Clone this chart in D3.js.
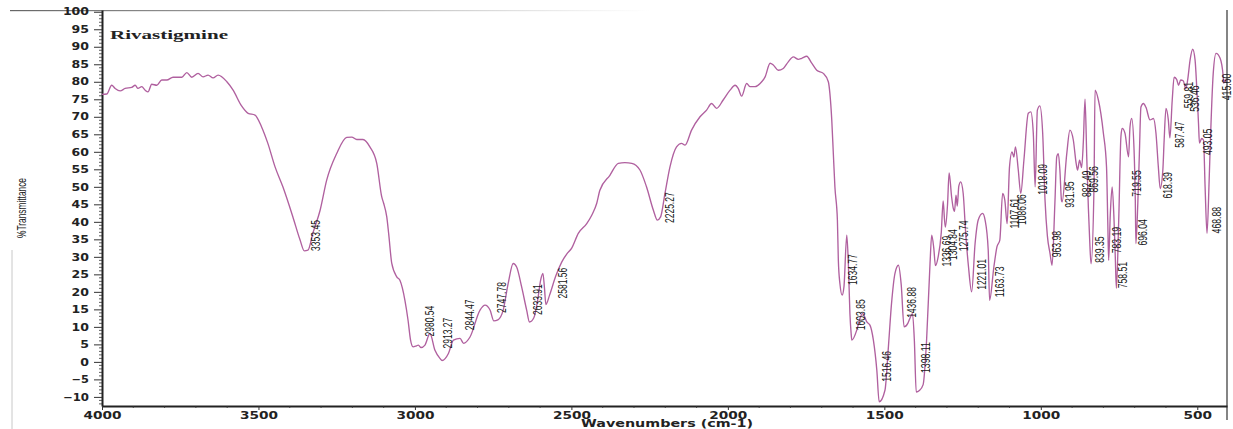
<!DOCTYPE html>
<html>
<head>
<meta charset="utf-8">
<script src="https://cdn.jsdelivr.net/npm/d3@7"></script>
<style>
  html, body { margin: 0; padding: 0; background: #fff; }
  svg { display: block; }
</style>
</head>
<body>
<svg id="chart" width="1233" height="429"></svg>
<script>
// FTIR spectrum of rivastigmine: wavenumber (cm-1) and %T
const wavenumber = [
  4000, 3985, 3969, 3958, 3942, 3926, 3905, 3894, 3885, 3873, 3862, 3853, 3841, 3825, 3809, 3793,
  3773, 3745, 3729, 3713, 3693, 3677, 3661, 3645, 3629, 3601, 3581, 3554, 3533, 3511, 3490, 3470,
  3447, 3422, 3390, 3367, 3353.45, 3342, 3326, 3303, 3282, 3250, 3218, 3202, 3186, 3166, 3144, 3122,
  3106, 3100, 3090, 3084, 3074, 3058, 3048, 3032, 3022, 3014, 3006, 2995, 2989, 2980.54, 2968, 2952,
  2936, 2920, 2913.27, 2893, 2877, 2856, 2844.47, 2824, 2792, 2776, 2760, 2747.78, 2735, 2718, 2702, 2686,
  2675, 2659, 2643, 2633.91, 2620, 2608, 2598, 2591, 2586, 2581.56, 2570, 2550, 2531, 2515, 2499, 2478,
  2451, 2435, 2419, 2409, 2377, 2350, 2329, 2307, 2281, 2260, 2238, 2225.27, 2215, 2201, 2185, 2164,
  2148, 2137, 2116, 2089, 2068, 2052, 2036, 2015, 1993, 1977, 1967, 1956, 1940, 1929, 1913, 1897,
  1881, 1865, 1855, 1839, 1823, 1807, 1791, 1775, 1764, 1748, 1732, 1716, 1695, 1679, 1674, 1668,
  1663, 1658, 1650, 1647, 1642, 1634.77, 1629, 1620, 1615, 1610, 1606, 1603.85, 1588, 1578, 1569, 1556,
  1546, 1535, 1524, 1516.46, 1498, 1487, 1477, 1466, 1455, 1446, 1436.88, 1425, 1418, 1410, 1404, 1398.11,
  1388, 1376, 1365, 1354, 1348.6, 1342, 1336.69, 1328, 1318, 1312, 1308, 1304.84, 1298, 1293, 1285, 1280,
  1275.74, 1271, 1267, 1262, 1256, 1248, 1240, 1231, 1221.01, 1210, 1200, 1186, 1178, 1168, 1163.73, 1150,
  1140, 1131, 1122, 1115, 1107.61, 1100, 1092, 1086.06, 1081, 1072, 1064, 1054, 1040, 1032, 1024, 1018.09,
  1011, 1003, 994, 986.5, 979, 970.6, 963.98, 955, 949, 944, 939, 934, 931.95, 917, 907, 896,
  887, 882.49, 876, 869.56, 864, 858.7, 853, 848, 843, 839.35, 830, 826.7, 816, 800, 790, 786,
  783.19, 778, 772, 766, 762, 758.51, 751, 744, 740, 731, 719.55, 715, 709.5, 702, 698, 696.04,
  690, 685, 680, 672, 664, 651, 640, 632, 624.4, 618.39, 610, 606, 600, 592.5, 587.47, 580,
  574, 566, 559.81, 553, 545, 536.46, 530, 523, 514.6, 507, 501.8, 496, 493.05, 486, 480, 475,
  468.88, 462, 459, 449, 440, 427, 417, 415.6, 411, 405
];
const transmittance = [
  76.4, 76.5, 79.0, 78.1, 77.4, 78.1, 78.4, 79.0, 78.1, 78.6, 77.6, 77.1, 79.3, 79.0, 80.5, 80.5,
  81.3, 81.3, 82.6, 81.3, 82.4, 81.4, 81.9, 81.1, 81.9, 80.0, 77.6, 73.1, 71.0, 70.5, 67.1, 62.4,
  55.7, 50.0, 41.4, 34.8, 31.7, 31.9, 36.8, 43.3, 51.9, 59.5, 64.1, 64.2, 63.5, 63.5, 61.4, 56.7,
  47.1, 45.3, 41.4, 36.7, 28.1, 24.3, 23.3, 17.6, 11.9, 6.2, 4.3, 4.6, 4.8, 4.1, 4.8, 8.1,
  3.3, 1.0, 0.4, 2.4, 6.2, 6.7, 5.3, 7.1, 14.8, 16.2, 14.8, 11.7, 12.0, 14.8, 22.4, 28.1,
  27.1, 21.4, 14.8, 11.4, 12.6, 17.5, 23.5, 25.3, 21.0, 16.4, 19.0, 24.5, 28.5, 30.8, 32.5, 36.7,
  39.5, 41.9, 45.3, 49.0, 53.3, 56.7, 56.9, 56.7, 54.8, 50.0, 43.3, 40.5, 41.4, 48.1, 55.7, 61.4,
  62.4, 61.9, 66.2, 70.0, 71.9, 73.8, 72.4, 74.8, 77.6, 79.0, 78.1, 75.9, 79.5, 78.6, 78.6, 79.5,
  81.4, 85.3, 84.8, 83.3, 83.8, 85.7, 87.1, 86.4, 86.7, 87.3, 85.3, 83.3, 82.4, 80.0, 76.7, 69.1,
  59.5, 50.0, 40.5, 29.1, 22.4, 19.1, 21.5, 36.2, 28.1, 13.8, 8.0, 6.2, 9.1, 12.4, 13.8, 11.4,
  10.5, 6.2, -2.4, -11.4, -8.1, 4.3, 16.7, 25.3, 27.6, 22.0, 10.0, 11.0, 12.5, 13.8, 6.0, -8.6,
  -8.2, -6.5, 6.2, 28.1, 36.2, 32.5, 27.5, 30.0, 37.0, 46.0, 41.0, 38.5, 45.0, 54.0, 47.1, 44.0,
  43.0, 47.6, 44.5, 50.2, 51.4, 48.1, 36.7, 27.1, 20.0, 33.8, 40.5, 42.4, 40.5, 31.9, 17.6, 27.1,
  32.9, 34.8, 48.1, 46.2, 39.5, 55.7, 60.0, 58.5, 61.4, 54.8, 48.1, 57.6, 71.0, 71.4, 65.3, 50.0,
  71.9, 73.1, 65.3, 46.2, 36.0, 31.0, 27.6, 45.3, 58.6, 59.5, 54.8, 46.2, 45.7, 59.5, 66.2, 63.3,
  56.7, 54.8, 57.6, 55.5, 63.0, 75.0, 58.0, 44.0, 33.0, 28.0, 50.0, 77.6, 74.8, 65.3, 55.7, 40.0,
  29.0, 42.0, 50.0, 40.5, 30.0, 21.0, 40.5, 64.3, 66.7, 65.3, 58.6, 67.1, 69.5, 60.5, 46.0, 33.8,
  45.3, 59.5, 72.8, 73.8, 72.7, 69.1, 69.5, 65.3, 55.7, 49.5, 54.8, 63.0, 72.4, 69.1, 64.0, 74.8,
  81.3, 80.7, 79.0, 80.5, 80.3, 78.0, 81.0, 86.2, 89.3, 86.2, 78.6, 68.0, 62.5, 63.8, 63.3, 50.0,
  36.7, 52.0, 60.5, 82.4, 88.1, 86.7, 81.4, 79.6, 80.5, 80.2
];

// Picked absorption bands printed beside the trace
const peakWavenumbers = [
  3353.45, 2980.54, 2913.27, 2844.47, 2747.78, 2633.91, 2581.56, 2225.27,
  1634.77, 1603.85, 1516.46, 1436.88, 1398.11, 1336.69, 1304.84, 1275.74,
  1221.01, 1163.73, 1107.61, 1086.06, 1018.09, 963.98, 931.95, 882.49,
  869.56, 839.35, 783.19, 758.51, 719.55, 696.04, 618.39, 587.47,
  559.81, 536.46, 493.05, 468.88, 415.6
];

const xTickValues = [4000, 3500, 3000, 2500, 2000, 1500, 1000, 500];
const yTickValues = d3.range(-10, 101, 5);

const sampleName = "Rivastigmine";
const xTitle = "Wavenumbers (cm-1)";
const yTitle = "%Transmittance";

// ---------------------------------------------------------------
const svg = d3.select("#chart");
const x = d3.scaleLinear().domain([4000, 405]).range([102, 1227]);
const y = d3.scaleLinear().domain([-12.6, 100.5]).range([406, 10]);

const axisFont = "'DejaVu Sans', Verdana, sans-serif";
const narrowFont = "'Liberation Sans Narrow', 'Liberation Sans', Arial, sans-serif";

// faint frame left over from the printed sheet
const defs = svg.append("defs");
const fade = defs.append("linearGradient").attr("id", "topFade")
  .attr("x1", "0%").attr("x2", "100%");
fade.append("stop").attr("offset", "0%").attr("stop-color", "#555").attr("stop-opacity", 0.9);
fade.append("stop").attr("offset", "55%").attr("stop-color", "#777").attr("stop-opacity", 0.55);
fade.append("stop").attr("offset", "100%").attr("stop-color", "#999").attr("stop-opacity", 0);
svg.append("rect").attr("x", 10).attr("y", 10).attr("width", 640).attr("height", 1.2)
  .attr("fill", "url(#topFade)");
svg.append("line").attr("x1", 12).attr("x2", 12).attr("y1", 250).attr("y2", 429)
  .attr("stroke", "#c8c8c8").attr("stroke-width", 1);

// right frame
svg.append("line").attr("x1", x.range()[1]).attr("x2", x.range()[1])
  .attr("y1", 10).attr("y2", 420).attr("stroke", "#666").attr("stroke-width", 1.6);

// y axis (%T)
const yAxis = svg.append("g").attr("transform", `translate(${x.range()[0]},0)`)
  .call(d3.axisLeft(y).tickValues(yTickValues).tickSize(8).tickSizeOuter(0).tickPadding(5)
    .tickFormat(d3.format("d")));
yAxis.select(".domain").attr("stroke", "#222").attr("stroke-width", 2);
yAxis.selectAll(".tick line").attr("stroke", "#333").attr("stroke-width", 1);
yAxis.selectAll(".tick text")
  .attr("font-family", axisFont).attr("font-weight", "bold").attr("font-size", 10)
  .attr("fill", "#222")
  .attr("textLength", function () { return this.textContent.length * 8.7; })
  .attr("lengthAdjust", "spacingAndGlyphs");

const yMinor = d3.range(-12, 101, 1).filter(v => v % 5 !== 0);
svg.append("g").selectAll("line").data(yMinor).join("line")
  .attr("x1", x.range()[0] - 3).attr("x2", x.range()[0])
  .attr("y1", d => y(d)).attr("y2", d => y(d))
  .attr("stroke", "#333").attr("stroke-width", 0.8);

// x axis (wavenumber)
const xAxis = svg.append("g").attr("transform", `translate(0,${y.range()[0]})`)
  .call(d3.axisBottom(x).tickValues(xTickValues).tickSize(4).tickSizeOuter(0).tickPadding(2)
    .tickFormat(d3.format("d")));
xAxis.select(".domain").attr("stroke", "#222").attr("stroke-width", 1.8);
xAxis.selectAll(".tick line").attr("stroke", "#333");
xAxis.selectAll(".tick text")
  .attr("font-family", axisFont).attr("font-weight", "bold").attr("font-size", 10)
  .attr("fill", "#222")
  .attr("textLength", function () { return this.textContent.length * 9.5; })
  .attr("lengthAdjust", "spacingAndGlyphs");

const xMinor = d3.range(500, 4000, 100).filter(v => v % 500 !== 0);
svg.append("g").selectAll("line").data(xMinor).join("line")
  .attr("x1", d => x(d)).attr("x2", d => x(d))
  .attr("y1", y.range()[0]).attr("y2", y.range()[0] + 2)
  .attr("stroke", "#333").attr("stroke-width", 0.8);

// titles
svg.append("text").text(xTitle)
  .attr("x", 667).attr("y", 427).attr("text-anchor", "middle")
  .attr("font-family", axisFont).attr("font-weight", "bold").attr("font-size", 10)
  .attr("fill", "#222").attr("textLength", 172).attr("lengthAdjust", "spacingAndGlyphs");

svg.append("text").text(yTitle)
  .attr("transform", "translate(21,208) rotate(-90)")
  .attr("text-anchor", "middle").attr("dy", "0.35em")
  .attr("font-family", narrowFont).attr("font-size", 13)
  .attr("fill", "#222").attr("textLength", 60).attr("lengthAdjust", "spacingAndGlyphs");

svg.append("text").text(sampleName)
  .attr("x", 110).attr("y", 39)
  .attr("font-family", "'Liberation Serif', 'Times New Roman', serif")
  .attr("font-weight", "bold").attr("font-size", 12).attr("fill", "#222")
  .attr("textLength", 118).attr("lengthAdjust", "spacingAndGlyphs");

// spectrum trace
const points = wavenumber.map((w, i) => [w, transmittance[i]]);
const line = d3.line().x(d => x(d[0])).y(d => y(d[1])).curve(d3.curveMonotoneX);
svg.append("path").datum(points)
  .attr("d", line)
  .attr("fill", "none")
  .attr("stroke", "#b0609f")
  .attr("stroke-width", 1.35)
  .attr("stroke-linejoin", "round");

// band labels: set just right of each band minimum, reading upward
// [dx, dy] in pixels from the band minimum to the start of its label
const labelOffsets = [
  [11, 0], [9, -11], [6, -12], [6, -13], [8, -8], [8, -7], [17, -6], [12, 3],
  [11, -10], [9, -10], [8, -20], [8, -9], [10, -19], [11, 1], [7, 33], [9, 40],
  [10, -2], [10, -3], [8, 5], [8, 68], [8, 8], [5, -8], [8, 6], [9, 27],
  [12, 25], [9, -1], [8, -7], [6, 0], [8, 40], [7, 2], [8, 10], [10, 10],
  [10, 23], [9, 23], [8, 12], [10, 0], [3, 17]
];
const fmt = d3.format(".2f");
const bands = peakWavenumbers.map((w, i) => {
  const j = wavenumber.indexOf(w);
  return { w, t: transmittance[j], off: labelOffsets[i] };
});
svg.append("g").selectAll("text").data(bands).join("text")
  .text(d => fmt(d.w))
  .attr("transform", d => `translate(${x(d.w) + d.off[0]},${y(d.t) + d.off[1]}) rotate(-90)`)
  .attr("dy", "0.35em")
  .attr("font-family", narrowFont).attr("font-size", 12).attr("fill", "#161616")
  .attr("textLength", d => fmt(d.w).length * 4.4)
  .attr("lengthAdjust", "spacingAndGlyphs");
</script>
</body>
</html>
